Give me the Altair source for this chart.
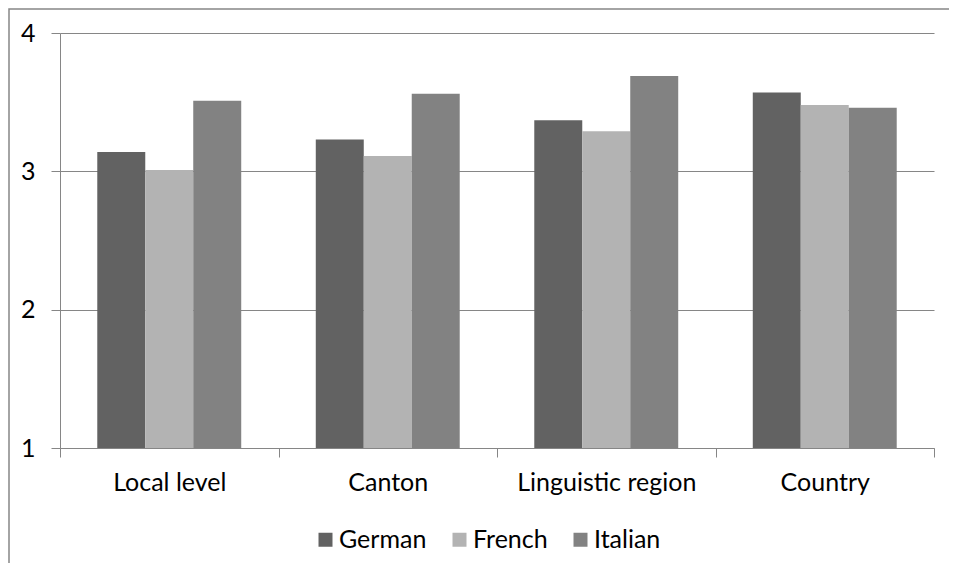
import altair as alt
import pandas as pd

categories = ["Local level", "Canton", "Linguistic region", "Country"]
series = ["German", "French", "Italian"]
german = [3.14, 3.23, 3.37, 3.57]
french = [3.01, 3.11, 3.29, 3.48]
italian = [3.51, 3.56, 3.69, 3.46]
colors = ["#626262", "#b3b3b3", "#828282"]

rows = []
for s, vals in zip(series, [german, french, italian]):
    for c, v in zip(categories, vals):
        rows.append({"category": c, "series": s, "value": v})
df = pd.DataFrame(rows)

FONT = "Lato"
FS = 25
W, H = 874, 415

bars = alt.Chart(df).mark_bar().encode(
    x=alt.X("category:N", sort=categories, title=None,
            scale=alt.Scale(paddingInner=0, paddingOuter=0),
            axis=alt.Axis(labelAngle=0, tickBand="extent", tickSize=9,
                          domainColor="#868686", tickColor="#868686",
                          labelFontSize=FS, labelFont=FONT, labelColor="#000000",
                          labelPadding=13, grid=False)),
    xOffset=alt.XOffset("series:N", sort=series,
                        scale=alt.Scale(paddingInner=0, paddingOuter=0.777)),
    y=alt.Y("value:Q", title=None,
            scale=alt.Scale(domain=[1, 4], nice=False, zero=False),
            axis=alt.Axis(values=[1, 2, 3, 4], format="d", tickSize=9,
                          domainColor="#868686", tickColor="#868686",
                          gridColor="#868686", gridWidth=1.2,
                          labelFontSize=FS, labelFont=FONT, labelColor="#000000",
                          labelPadding=16)),
    y2=alt.datum(1),
    color=alt.Color("series:N", sort=series,
                    scale=alt.Scale(domain=series, range=colors),
                    legend=alt.Legend(title=None, orient="none", direction="horizontal",
                                      legendX=253, legendY=494,
                                      symbolType="square", symbolSize=196,
                                      symbolStrokeWidth=0, symbolOpacity=1,
                                      labelFontSize=FS, labelFont=FONT,
                                      labelColor="#000000", labelOffset=1,
                                      columnPadding=20, padding=0)),
)

frame = alt.Chart(pd.DataFrame({"k": [0]})).mark_rect(
    fill=None, stroke="#868686", strokeWidth=1.5, clip=False
).encode(
    x=alt.value(-51), x2=alt.value(W + 60),
    y=alt.value(-24), y2=alt.value(H + 200),
)

chart = alt.layer(frame, bars).properties(
    width=W, height=H,
    autosize=alt.AutoSizeParams(type="none"),
    padding={"left": 52, "top": 25, "right": 15, "bottom": 115},
).configure_view(stroke=None)

chart.save("out.html", embed_options={"renderer": "svg", "actions": False})
